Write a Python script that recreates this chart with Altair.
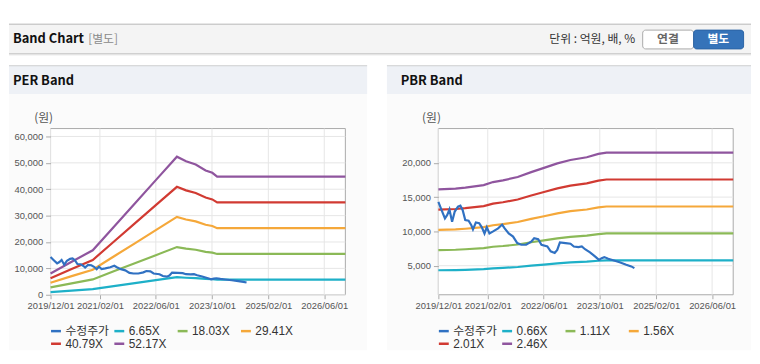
import altair as alt
import pandas as pd

# ---------------- data ----------------
price_dates = ["2019-12-01", "2019-12-29", "2020-01-27", "2020-02-16", "2020-03-06", "2020-03-29",
               "2020-04-21", "2020-05-19", "2020-06-09", "2020-06-29", "2020-07-21", "2020-08-19",
               "2020-09-12", "2020-09-26", "2020-10-21", "2020-11-19", "2020-12-12", "2021-01-04",
               "2021-01-24", "2021-02-16", "2021-03-20", "2021-05-02", "2021-06-06", "2021-06-28",
               "2021-08-02", "2021-09-09", "2021-10-15", "2021-11-19", "2021-12-31", "2022-02-13",
               "2022-03-11", "2022-04-15", "2022-05-13", "2022-07-03", "2022-08-01", "2022-09-05",
               "2022-09-27", "2022-10-20", "2022-12-08", "2023-01-20", "2023-02-18", "2023-03-30",
               "2023-04-28", "2023-05-26", "2023-07-08", "2023-08-20", "2023-09-24", "2023-10-17",
               "2023-11-09", "2023-12-13", "2024-01-25", "2024-03-21", "2024-05-17", "2024-06-30",
               "2024-07-27"]
price_values = [14300, 13100, 11900, 12400, 13200, 11400,
                12900, 13600, 13750, 13100, 11650, 11560,
                10900, 10300, 11300, 11200, 10600, 9700,
                10600, 9700, 10000, 10450, 11000, 10450,
                9700, 9250, 8300, 8050, 8050, 8500,
                9000, 8850, 8050, 7800, 7100, 6850,
                7300, 8400, 8300, 8200, 7800, 7700,
                7800, 7400, 6950, 6350, 5850, 6100,
                6250, 6000, 5800, 5500, 5150, 4900,
                4650]

per_dates = ["2019-12-01", "2020-06-01", "2020-12-01", "2021-06-01", "2021-12-01", "2022-06-01",
             "2022-12-01", "2023-02-18", "2023-05-13", "2023-08-07", "2023-10-04", "2023-11-15",
             "2026-12-01"]
per_eps = [154, 240, 323, 493, 663, 833, 1003, 970, 946, 903, 886, 858, 858]
per_multiples = [6.65, 18.03, 29.41, 40.79, 52.17]

pbr_dates = ["2019-12-01", "2020-04-28", "2020-07-22", "2020-12-28", "2021-03-19", "2021-06-13",
             "2021-10-19", "2022-02-13", "2022-06-04", "2022-09-28", "2023-01-19", "2023-06-10",
             "2023-09-19", "2023-11-28", "2026-12-01"]
pbr_bps = [6560, 6600, 6660, 6810, 6990, 7090, 7290, 7580, 7830, 8100, 8300, 8460, 8660, 8740, 8740]
pbr_multiples = [0.66, 1.11, 1.56, 2.01, 2.46]

x_tick_dates = [(2019, 12), (2021, 2), (2022, 6), (2023, 10), (2025, 2), (2026, 6)]
per_y_ticks = [0, 10000, 20000, 30000, 40000, 50000, 60000]
pbr_y_ticks = [5000, 10000, 15000, 20000]
series_colors = ["#3071c2", "#1eb0c8", "#8bb957", "#f5a83a", "#d13a32", "#8f559e"]
price_label = "수정주가"

# ---------------- helpers ----------------
W, H = 298, 168
AXF = "Liberation Sans Narrow, Liberation Sans, Arial, sans-serif"
KF = "Noto Sans CJK KR, Noto Sans, sans-serif"
LF = "Liberation Sans, Noto Sans CJK KR, sans-serif"
dummy = pd.DataFrame({"k": [0]})


def dt(y, m, d=1):
    return alt.DateTime(year=y, month=m, date=d, utc=True)


def band_frame(dates, base, multiples):
    rows = []
    for m in multiples:
        lab = f"{m:.2f}X"
        for d, b in zip(dates, base):
            rows.append({"date": d, "value": round(b * m), "series": lab})
    return pd.DataFrame(rows)


price_df = pd.DataFrame({"date": price_dates, "value": price_values, "series": price_label})
xtick_df = pd.DataFrame({"d": [f"{y:04d}-{m:02d}-01" for y, m in x_tick_dates]})


def rect(x, x2, y, y2, **kw):
    return alt.Chart(dummy).mark_rect(**kw).encode(
        x=alt.value(x), x2=alt.value(x2), y=alt.value(y), y2=alt.value(y2))


def hline(x, x2, y, color):
    return alt.Chart(dummy).mark_rule(color=color, strokeWidth=1).encode(
        x=alt.value(x), x2=alt.value(x2), y=alt.value(y))


def text(x, y, s, **kw):
    return alt.Chart(dummy).mark_text(**kw).encode(
        x=alt.value(x), y=alt.value(y), text=alt.value(s))


def panel(title, bx0, bx1, bands_df, band_labels, y_domain, y_ticks, header_layers):
    xscale = alt.Scale(type="utc", domain=[dt(2019, 12), dt(2026, 12)])
    yscale = alt.Scale(domain=y_domain, nice=False, zero=False)
    xaxis = alt.Axis(values=[dt(y, m) for y, m in x_tick_dates], format="%Y/%m/%d",
                     labelFont=AXF, labelFontSize=9.5, labelColor="#555",
                     tickColor="#aaaaaa", tickSize=4, labelPadding=2, domain=False,
                     grid=False, labelFlush=False, labelOverlap=False, zindex=1, title=None)
    yaxis = alt.Axis(values=y_ticks, format=",d", labelFont=AXF, labelFontSize=9.5,
                     labelColor="#555", tickColor="#aaaaaa", tickSize=5, labelPadding=3,
                     domain=False, grid=False, zindex=1, title=None)
    legend = alt.Legend(orient="none", legendX=-1, legendY=198, direction="horizontal",
                        columns=4, symbolType="stroke", symbolSize=100, symbolStrokeWidth=2.5,
                        labelOffset=3, gridAlign="all", columnPadding=-1, rowPadding=0,
                        labelFontSize=12, labelFont=LF, labelColor="#333", title=None,
                        padding=0)
    color = alt.Color("series:N", scale=alt.Scale(domain=[price_label] + band_labels,
                                                  range=series_colors), legend=legend)

    bg = [
        rect(bx0, bx1, -64, -35, color="#eef1f6"),
        hline(bx0, bx1, -63.5, "#d0d0d0"),
        rect(bx0, bx1, -35, 224, color="#fbfbfb"),
        text(-38, -48, title, align="left", baseline="middle", font=KF, fontSize=13,
             fontWeight="bold", color="#111"),
        rect(0, W, 0, H, fill="white", stroke="#a9a9a9", strokeWidth=1),
    ]
    xgrid = alt.Chart(xtick_df).mark_rule(color="#e6e6e6", strokeWidth=1).encode(
        x=alt.X("d:T", scale=xscale, axis=xaxis))
    ygrid = alt.Chart(pd.DataFrame({"v": y_ticks})).mark_rule(
        color="#e6e6e6", strokeWidth=1).encode(y=alt.Y("v:Q", scale=yscale, axis=yaxis))
    bands = alt.Chart(bands_df).mark_line(strokeWidth=2.2).encode(
        x=alt.X("date:T", scale=xscale, axis=xaxis),
        y=alt.Y("value:Q", scale=yscale, axis=yaxis),
        color=color)
    price = alt.Chart(price_df).mark_line(strokeWidth=2.2).encode(
        x=alt.X("date:T", scale=xscale, axis=xaxis),
        y=alt.Y("value:Q", scale=yscale, axis=yaxis),
        color=color)
    unit = text(-7, -11, "(원)", align="center", baseline="middle", font=KF, fontSize=12,
                color="#555")
    layers = header_layers + bg + [xgrid, ygrid, bands, price, unit]
    return alt.layer(*layers).properties(width=W, height=H)


# header (drawn in the left panel's coordinates; plot origin at page (50,128))
header = [
    rect(-42, 708, -120, -106, color="white"),
    rect(-42, 708, -106, -75, color="#f4f4f4"),
    hline(-42, 708, -105.5, "#b9b9b9"),
    hline(-42, 708, -75.5, "#bdbdbd"),
    hline(-42, 708, -74.5, "#e2e2e2"),
    text(-38, -90, "Band Chart", align="left", baseline="middle", font=KF, fontSize=13,
         fontWeight="bold", color="#111"),
    text(38, -90, "[별도]", align="left", baseline="middle", font=KF, fontSize=12,
         color="#8a8a8a"),
    text(591, -90, "단위 : 억원, 배, %", align="right", baseline="middle", font=KF,
         fontSize=12, color="#333"),
    rect(598.5, 650, -99.5, -80.5, fill="white", stroke="#a9a9a9", strokeWidth=1,
         cornerRadius=3),
    rect(650, 700.5, -99.5, -80.5, fill="#3573b9", stroke="#2c64a5", strokeWidth=1,
         cornerRadius=3),
    text(624, -90, "연결", align="center", baseline="middle", font=KF, fontSize=12,
         fontWeight="bold", color="#666"),
    text(675, -90, "별도", align="center", baseline="middle", font=KF, fontSize=12,
         fontWeight="bold", color="white"),
]

per_labels = [f"{m:.2f}X" for m in per_multiples]
pbr_labels = [f"{m:.2f}X" for m in pbr_multiples]

left = panel("PER Band", -42, 320, band_frame(per_dates, per_eps, per_multiples), per_labels,
             [0, 63000], per_y_ticks, header)
right = panel("PBR Band", -52, 316, band_frame(pbr_dates, pbr_bps, pbr_multiples), pbr_labels,
              [760, 25000], pbr_y_ticks, [])

chart = alt.hconcat(left, right, spacing=94, bounds="flush").resolve_scale(
    color="independent", x="independent", y="independent"
).resolve_legend(color="independent").properties(padding=0).configure_view(stroke=None)

chart.save("out.html", embed_options={"renderer": "svg", "actions": False})
